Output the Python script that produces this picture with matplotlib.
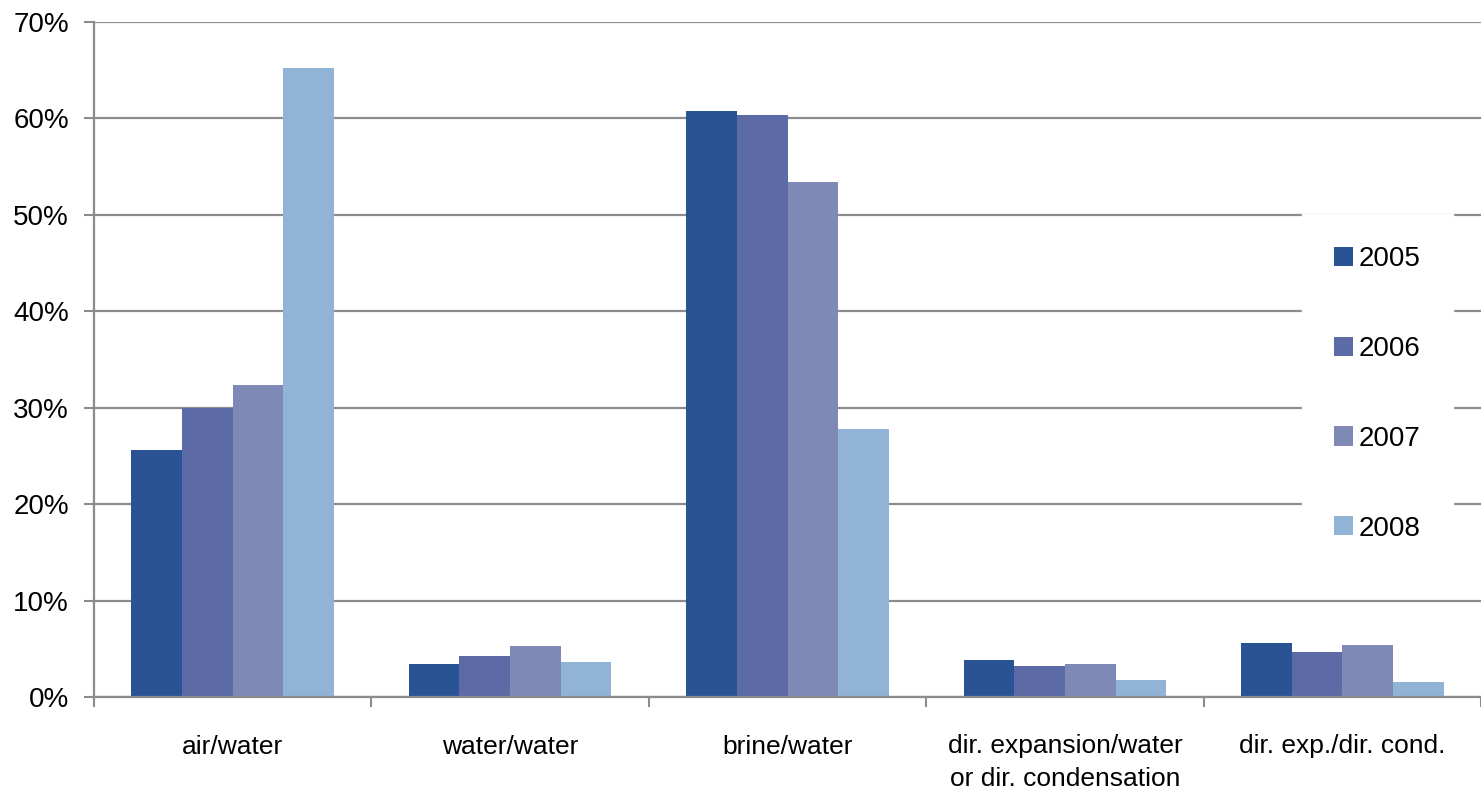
import matplotlib.pyplot as plt
import numpy as np

categories = ["air/water", "water/water", "brine/water",
              "dir. expansion/water\nor dir. condensation", "dir. exp./dir. cond."]
years = ["2005", "2006", "2007", "2008"]
share_2005 = [25.6, 3.4, 60.8, 3.8, 5.6]
share_2006 = [30.0, 4.3, 60.4, 3.2, 4.7]
share_2007 = [32.4, 5.3, 53.4, 3.4, 5.4]
share_2008 = [65.2, 3.6, 27.8, 1.8, 1.6]
colors = ["#295395", "#5C6AA6", "#7E89B6", "#91B3D6"]

plt.rcParams['font.family'] = ['Liberation Sans', 'DejaVu Sans']

fig = plt.figure(figsize=(14.81, 7.91), dpi=100)
ax = fig.add_axes([94/1481, 1-697/791, 1-94/1481, (697-22)/791])

x = np.arange(len(categories))
w = 0.1825
series = [share_2005, share_2006, share_2007, share_2008]
for i, vals in enumerate(series):
    ax.bar(x + (i - 1.5)*w, vals, w, color=colors[i], label=years[i], zorder=2)

# one category is ~281 px wide; the last one is cut at the right edge
ax.set_ylim(0, 70)
ax.set_xlim(-0.5, (1481-94)/281 - 0.5)
ax.set_yticks(range(0, 71, 10))
ax.set_yticklabels([f"{v}%" for v in range(0, 71, 10)], fontsize=20)
ax.yaxis.grid(True, color="#8c8c8c", linewidth=1.6)
ax.set_axisbelow(True)

ax.set_xticks(x)
ax.set_xticklabels(categories, fontsize=19, linespacing=1.47)
ax.set_xticks(np.arange(-0.5, len(categories), 1), minor=True)
ax.tick_params(axis='x', which='major', length=0, pad=27)
ax.tick_params(axis='x', which='minor', length=7, width=1.5, color="#8c8c8c")
ax.tick_params(axis='y', length=7, width=1.5, color="#8c8c8c", pad=11)

for s in ["top", "right"]:
    ax.spines[s].set_visible(False)
for s in ["left", "bottom"]:
    ax.spines[s].set_color("#8c8c8c")
    ax.spines[s].set_linewidth(1.6)

leg = ax.legend(loc="upper left", bbox_to_anchor=(1302/1481, 1-214/791),
                bbox_transform=fig.transFigure, fontsize=20, frameon=True,
                fancybox=False, edgecolor="white", facecolor="white", framealpha=1,
                borderpad=1.15, labelspacing=2.3, handlelength=0.68, handleheight=0.68,
                handletextpad=0.22, borderaxespad=0)
leg.set_zorder(5)

fig.savefig("out.png", dpi=100)
